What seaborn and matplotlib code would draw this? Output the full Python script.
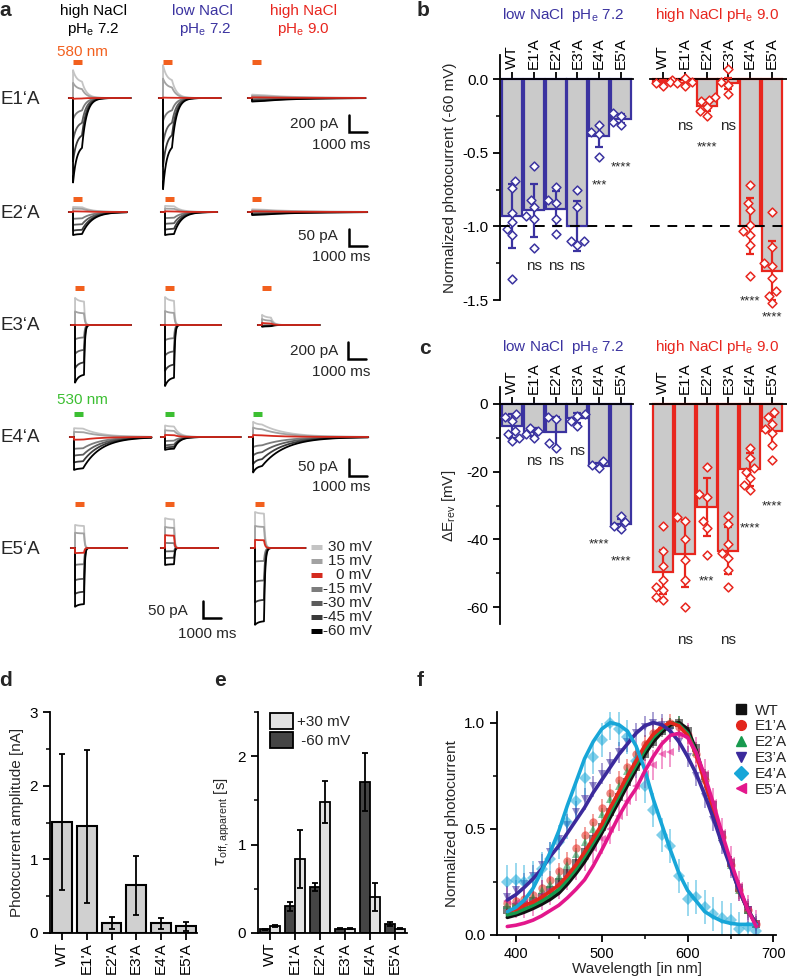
import numpy as np
import pandas as pd
import matplotlib
matplotlib.use('Agg')
import matplotlib.pyplot as plt
from matplotlib.lines import Line2D
from matplotlib.patches import Patch
from matplotlib.ticker import MultipleLocator
import seaborn as sns

sns.set_style('ticks')
plt.rcParams['font.family'] = ['Liberation Sans', 'DejaVu Sans']
plt.rcParams['font.size'] = 11
plt.rcParams['axes.unicode_minus'] = False
plt.rcParams['axes.linewidth'] = 1.3
plt.rcParams['axes.edgecolor'] = 'black'
for a in ['xtick', 'ytick']:
    plt.rcParams[a + '.major.width'] = 1.3
    plt.rcParams[a + '.minor.width'] = 1.1
    plt.rcParams[a + '.major.size'] = 5
    plt.rcParams[a + '.minor.size'] = 3
    plt.rcParams[a + '.color'] = 'black'
    plt.rcParams[a + '.labelsize'] = 11

# ---------------- data ----------------
variants = ['WT', "E1'A", "E2'A", "E3'A", "E4'A", "E5'A"]
row_names = ['E1‘A', 'E2‘A', 'E3‘A', 'E4‘A', 'E5‘A']
volt_labels = ['30 mV', '15 mV', '0 mV', '-15 mV', '-30 mV', '-45 mV', '-60 mV']

# panel a: peak photocurrent (pA) per voltage, for [high NaCl 7.2, low NaCl 7.2, high NaCl 9.0]
amps_e1 = [[330, 180, -10, -250, -500, -750, -1000],
           [390, 230, 5, -270, -540, -810, -1080],
           [40, 25, 8, -12, -22, -32, -42]]
amps_e2 = [[15, 10, 2, -20, -38, -55, -68],
           [18, 10, 2, -18, -35, -52, -68],
           [8, 5, 2, -3, -5, -7, -9]]
amps_e3 = [[320, 160, 0, -170, -340, -510, -680],
           [330, 165, 0, -180, -360, -540, -720],
           [120, 70, 25, -5, -10, -15, -20]]
amps_e4 = [[26, 15, -8, -35, -55, -75, -97],
           [34, 20, 6, -12, -25, -32, -38],
           [45, 28, 6, -30, -55, -80, -105]]
amps_e5 = [[68, 45, -15, -50, -95, -135, -173],
           [88, 62, 38, 15, -10, -30, -50],
           [106, 65, 24, -40, -100, -160, -226]]
trace_amps = [amps_e1, amps_e2, amps_e3, amps_e4, amps_e5]
scale_pa = [200, 50, 200, 50, 50]
steady_frac = [[0.55, 0.5, 0.9], [0.95, 0.95, 0.9], [0.85, 0.85, 0.7], [0.95, 0.9, 0.8], [0.95, 0.95, 0.95]]
tau_off_ms = [[250, 250, 1800], [550, 400, 2000], [50, 50, 150], [1000, 300, 1300], [40, 40, 60]]
trace_len_ms = [[3200, 3200, 6300], [3000, 2900, 6400], [3100, 3100, 3200], [4300, 4200, 6400], [2900, 2950, 2800]]
light_ms = 500

# panel b
b_low_mean = [-0.93, -0.89, -0.88, -1.00, -0.39, -0.27]
b_low_sd = [0.22, 0.18, 0.12, 0.17, 0.07, 0.03]
b_low_pts = {'WT': [-0.69, -0.74, -0.91, -0.97, -1.02, -1.06, -1.36],
             "E1'A": [-0.59, -0.82, -0.87, -0.93, -0.95, -1.15],
             "E2'A": [-0.73, -0.82, -0.84, -0.95, -1.05],
             "E3'A": [-0.75, -0.87, -1.10, -1.10, -1.13],
             "E4'A": [-0.31, -0.36, -0.37, -0.53],
             "E5'A": [-0.23, -0.25, -0.29, -0.31]}
b_high_mean = [-0.02, -0.01, -0.18, -0.03, -1.00, -1.30]
b_high_sd = [0.01, 0.02, 0.04, 0.04, 0.19, 0.20]
b_high_pts = {'WT': [-0.01, -0.02, -0.03, -0.05],
              "E1'A": [0.01, -0.02, -0.03, -0.05],
              "E2'A": [-0.12, -0.14, -0.15, -0.19, -0.22, -0.25],
              "E3'A": [0.07, -0.02, -0.04, -0.10],
              "E4'A": [-0.72, -0.84, -0.89, -0.99, -1.03, -1.06, -1.13, -1.34],
              "E5'A": [-0.90, -1.14, -1.25, -1.27, -1.35, -1.44, -1.47, -1.52]}
b_low_sig = ['', 'ns', 'ns', 'ns', '***', '****']
b_high_sig = ['', 'ns', '****', 'ns', '****', '****']

# panel c
c_low_mean = [-6.5, -8.4, -8.4, -4.2, -18.2, -35.6]
c_low_sd = [3.5, 1.2, 4.5, 1.5, 0.8, 1.5]
c_low_pts = {'WT': [-3, -4, -5, -8, -9, -10, -11],
             "E1'A": [-7, -8, -9, -10],
             "E2'A": [-4, -4.5, -11.5, -13],
             "E3'A": [-3, -3.5, -5, -6.5],
             "E4'A": [-17, -18, -19],
             "E5'A": [-33, -35, -36, -37]}
c_high_mean = [-49.7, -44.2, -30.5, -43.3, -19.3, -8.1]
c_high_sd = [6.5, 10.0, 8.5, 7.0, 4.8, 4.3]
c_high_pts = {'WT': [-36, -43.5, -48, -52, -54, -55, -57, -58],
              "E1'A": [-33.5, -34.5, -40, -46, -52, -60],
              "E2'A": [-18.5, -26.5, -27.5, -34.5, -36.5, -44.5],
              "E3'A": [-33, -35.5, -41.5, -44, -45.5, -49, -54],
              "E4'A": [-13, -16, -19, -20, -22, -24, -25.5],
              "E5'A": [-2.5, -4, -6, -7.5, -8.5, -12, -16.5]}
c_low_sig = ['', 'ns', 'ns', 'ns', '****', '****']
c_high_sig = ['', 'ns', '***', 'ns', '****', '****']

# panel d
d_mean = [1.51, 1.45, 0.14, 0.65, 0.13, 0.09]
d_sd = [0.92, 1.04, 0.08, 0.40, 0.08, 0.06]

# panel e
e_neg60 = [0.04, 0.30, 0.52, 0.05, 1.71, 0.10]
e_neg60_sd = [0.01, 0.05, 0.04, 0.01, 0.33, 0.02]
e_pos30 = [0.08, 0.84, 1.48, 0.05, 0.41, 0.05]
e_pos30_sd = [0.01, 0.33, 0.24, 0.01, 0.16, 0.01]

# panel f
wl = [390, 400, 410, 420, 430, 440, 450, 460, 470, 480, 490, 500, 510, 520, 530,
      540, 550, 560, 570, 580, 590, 600, 610, 620, 630, 640, 650, 660, 670, 680]
f_fit = {
    'WT': [0.083, 0.094, 0.108, 0.125, 0.145, 0.168, 0.197, 0.24, 0.29, 0.345, 0.41, 0.48, 0.555, 0.63, 0.705,
           0.78, 0.85, 0.91, 0.955, 0.99, 1.0, 0.97, 0.87, 0.73, 0.60, 0.46, 0.34, 0.22, 0.12, 0.05],
    "E1'A": [0.112, 0.12, 0.14, 0.155, 0.178, 0.205, 0.235, 0.28, 0.33, 0.39, 0.455, 0.52, 0.60, 0.675, 0.75,
             0.82, 0.89, 0.945, 0.98, 1.0, 0.985, 0.94, 0.85, 0.72, 0.59, 0.45, 0.33, 0.21, 0.12, 0.05],
    "E2'A": [0.095, 0.105, 0.122, 0.14, 0.16, 0.185, 0.215, 0.26, 0.31, 0.37, 0.435, 0.50, 0.58, 0.655, 0.73,
             0.80, 0.87, 0.93, 0.97, 1.0, 0.99, 0.95, 0.86, 0.73, 0.59, 0.45, 0.33, 0.21, 0.12, 0.05],
    "E3'A": [0.165, 0.19, 0.225, 0.265, 0.31, 0.37, 0.42, 0.48, 0.54, 0.60, 0.67, 0.73, 0.79, 0.85, 0.90,
             0.95, 0.985, 1.0, 0.99, 0.96, 0.91, 0.84, 0.76, 0.66, 0.55, 0.43, 0.32, 0.21, 0.12, 0.05],
    "E4'A": [0.11, 0.13, 0.165, 0.22, 0.30, 0.39, 0.49, 0.61, 0.72, 0.83, 0.91, 0.97, 1.0, 0.99, 0.96,
             0.89, 0.78, 0.64, 0.52, 0.40, 0.29, 0.21, 0.16, 0.11, 0.085, 0.065, 0.055, 0.05, 0.05, 0.05],
    "E5'A": [0.04, 0.046, 0.056, 0.07, 0.09, 0.115, 0.14, 0.175, 0.215, 0.26, 0.325, 0.40, 0.48, 0.56, 0.63,
             0.69, 0.77, 0.84, 0.90, 0.94, 0.95, 0.93, 0.86, 0.75, 0.62, 0.48, 0.35, 0.23, 0.12, 0.04],
}
f_data = {
    'WT': [0.12, 0.13, 0.14, 0.16, 0.18, 0.21, 0.25, 0.29, 0.34, 0.39, 0.45, 0.51, 0.58, 0.65, 0.72,
           0.79, 0.85, 0.91, 0.96, 0.99, 1.0, 0.96, 0.88, 0.75, 0.61, 0.47, 0.34, 0.22, 0.12, 0.05],
    "E1'A": [0.15, 0.16, 0.17, 0.19, 0.22, 0.26, 0.30, 0.35, 0.41, 0.47, 0.53, 0.60, 0.67, 0.73, 0.79,
             0.85, 0.90, 0.95, 0.98, 1.0, 0.98, 0.94, 0.85, 0.73, 0.59, 0.46, 0.33, 0.21, 0.12, 0.05],
    "E2'A": [0.14, 0.15, 0.16, 0.18, 0.21, 0.24, 0.28, 0.33, 0.38, 0.44, 0.50, 0.57, 0.64, 0.70, 0.77,
             0.83, 0.88, 0.93, 0.97, 0.99, 1.0, 0.95, 0.86, 0.74, 0.60, 0.46, 0.33, 0.21, 0.12, 0.05],
    "E3'A": [0.18, 0.21, 0.24, 0.28, 0.33, 0.39, 0.45, 0.52, 0.58, 0.64, 0.70, 0.76, 0.81, 0.86, 0.91,
             0.95, 0.98, 1.0, 0.99, 0.96, 0.91, 0.84, 0.75, 0.65, 0.54, 0.43, 0.32, 0.21, 0.12, 0.04],
    "E4'A": [0.25, 0.26, 0.25, 0.27, 0.31, 0.36, 0.44, 0.53, 0.63, 0.74, 0.84, 0.92, 1.0, 0.97, 0.93,
             0.82, 0.70, 0.59, 0.47, 0.42, 0.28, 0.17, 0.18, 0.13, 0.10, 0.08, 0.07, 0.03, 0.04, 0.02],
    "E5'A": [0.16, 0.15, 0.15, 0.16, 0.19, 0.21, 0.24, 0.28, 0.33, 0.37, 0.41, 0.45, 0.50, 0.56, 0.63,
             0.70, 0.76, 0.80, 0.85, 0.86, 0.94, 0.93, 0.86, 0.76, 0.62, 0.48, 0.35, 0.23, 0.12, 0.05],
}
f_err = {'WT': 0.03, "E1'A": 0.04, "E2'A": 0.03, "E3'A": 0.05, "E4'A": 0.08, "E5'A": 0.07}
f_labels = ['WT', 'E1’A', 'E2’A', 'E3’A', 'E4’A', 'E5’A']

# ---------------- styles ----------------
blue = '#3b33a0'
red = '#e8261e'
bar_grey = '#cacaca'
volt_colors = ['#c4c4c4', '#a2a2a2', '#d42a1e', '#7c7c7c', '#5c5c5c', '#3a3a3a', '#000000']
orange = '#f2601e'
green = '#3cbf32'
f_colors = {'WT': '#111111', "E1'A": '#e3261c', "E2'A": '#179a4e', "E3'A": '#3b2a9c',
            "E4'A": '#17a6d8', "E5'A": '#e3178c'}
f_markers = {'WT': 's', "E1'A": 'o', "E2'A": '^', "E3'A": 'v', "E4'A": 'D', "E5'A": '<'}

W, H = 787, 976
fig = plt.figure(figsize=(W / 100, H / 100), dpi=100)


def add_ax(l, t, r, b):
    return fig.add_axes([l / W, 1 - b / H, (r - l) / W, (b - t) / H])


def ftxt(x, y, s, **kw):
    fig.text(x / W, 1 - y / H, s, **kw)


# ---------------- panel a ----------------
axa = add_ax(0, 0, 400, 645)
axa.set_xlim(0, 400)
axa.set_ylim(645, 0)
axa.axis('off')

px_ms = 18 / 1000
px_pa = {200: 17 / 200, 50: 17 / 50}
row_base = [98, 212, 325, 437, 548]
light_y = [62, 199, 288, 414, 504]
light_x = [[73, 163, 252], [73, 165, 252], [75, 165, 262], [74, 165, 253], [75, 165, 255]]
row_label_y = [100, 213, 325, 437, 550]
draw_order = [0, 1, 3, 4, 5, 6, 2]


def trace(amp, t, ss, tau_off, tau_in=200.0):
    on = amp * (ss + (1 - ss) * np.exp(-np.clip(t, 0, None) / tau_in))
    end = amp * (ss + (1 - ss) * np.exp(-light_ms / tau_in))
    off = end * np.exp(-np.clip(t - light_ms, 0, None) / tau_off)
    return np.where(t < 0, 0.0, np.where(t <= light_ms, on, off))


for r in range(5):
    lc = green if r == 3 else orange
    k = px_pa[scale_pa[r]]
    axa.text(0, row_label_y[r], row_names[r], fontsize=13.5, va='center', ha='left')
    for c in range(3):
        x0 = light_x[r][c]
        t = np.linspace(-230, trace_len_ms[r][c], 900)
        for v in draw_order:
            cur = trace(trace_amps[r][c][v], t, steady_frac[r][c], tau_off_ms[r][c])
            axa.plot(x0 + t * px_ms, row_base[r] - cur * k, color=volt_colors[v], lw=1.3,
                     solid_joinstyle='round')
        axa.plot([x0, x0 + light_ms * px_ms], [light_y[r]] * 2, color=lc, lw=3.6, solid_capstyle='butt')

# scale bars
sb = [(349, 132, 200, 338, 124, 341, 145), (349, 246, 50, 338, 236, 341, 257),
      (348, 359, 200, 338, 351, 341, 372), (349, 476, 50, 338, 467, 341, 487),
      (203, 618, 50, 188, 611, 207, 634)]
for (xb, yb, sc, tx, ty, mx, my) in sb:
    h = sc * px_pa[sc]
    axa.plot([xb, xb, xb + 1000 * px_ms], [yb - h, yb, yb], color='k', lw=1.8, solid_joinstyle='miter')
    axa.text(tx, ty, f'{sc} pA', ha='right', va='center')
    axa.text(mx, my, '1000 ms', ha='center', va='center')

# voltage legend
for i, (lab, col) in enumerate(zip(volt_labels, volt_colors)):
    y = 547 + 14 * i
    axa.plot([311, 322], [y, y], color=col, lw=3.6, solid_capstyle='butt')
    axa.text(372, y, lab, ha='right', va='center')

axa.text(93, 11, 'high NaCl', ha='center', va='center', color='k')
axa.text(93, 30, 'pH$_\\mathregular{e}$ 7.2', ha='center', va='center', color='k')
axa.text(202, 11, 'low NaCl', ha='center', va='center', color=blue)
axa.text(205, 30, 'pH$_\\mathregular{e}$ 7.2', ha='center', va='center', color=blue)
axa.text(303, 11, 'high NaCl', ha='center', va='center', color=red)
axa.text(303, 30, 'pH$_\\mathregular{e}$ 9.0', ha='center', va='center', color=red)
axa.text(82, 52, '580 nm', ha='center', va='center', color=orange)
axa.text(82, 400, '530 nm', ha='center', va='center', color=green)


# ---------------- panels b, c ----------------
def group_axes(l, r, t, b, ylim, xlim, means, sds, pts, sig, sig_y, color, first):
    ax = add_ax(l, t, r, b)
    sns.barplot(x=variants, y=means, color=bar_grey, edgecolor=color, linewidth=1.6,
                width=0.92, saturation=1, ax=ax, zorder=2)
    ax.errorbar(range(6), means, yerr=sds, fmt='none', ecolor=color, elinewidth=1.6,
                capsize=3, capthick=1.6, zorder=3)
    df = pd.DataFrame([(v, y) for v in variants for y in pts[v]], columns=['variant', 'val'])
    sns.swarmplot(data=df, x='variant', y='val', order=variants, marker='D', color='white',
                  edgecolor=color, linewidth=1.1, size=4.5, ax=ax, zorder=4, clip_on=False)
    for i, (s, y) in enumerate(zip(sig, sig_y)):
        if s:
            ax.text(i, y, s, ha='center', va='center', fontsize=11 if s == 'ns' else 9.5, clip_on=False)
    ax.set_ylim(*ylim)
    ax.set_xlim(*xlim)
    ax.spines['top'].set_position(('data', 0))
    ax.spines['bottom'].set_visible(False)
    ax.spines['right'].set_visible(False)
    ax.xaxis.set_ticks_position('top')
    ax.tick_params(axis='x', rotation=90, pad=2)
    ax.set_xlabel('')
    ax.set_ylabel('')
    if not first:
        ax.spines['left'].set_visible(False)
        ax.tick_params(axis='y', which='both', left=False, labelleft=False)
    return ax


b_sig_y_low = [0, -1.27, -1.27, -1.27, -0.72, -0.597]
b_sig_y_high = [0, -0.32, -0.465, -0.32, -1.513, -1.615]
axb1 = group_axes(500, 633, 55, 300, (-1.5, 0.163), (-0.55, 5.55), b_low_mean, b_low_sd, b_low_pts,
                  b_low_sig, b_sig_y_low, blue, True)
axb2 = group_axes(650, 787, 55, 300, (-1.5, 0.163), (-0.6, 5.69), b_high_mean, b_high_sd, b_high_pts,
                  b_high_sig, b_sig_y_high, red, False)
for ax in (axb1, axb2):
    ax.axhline(-1.0, color='k', lw=1.4, ls=(0, (5, 4)), zorder=5)
axb1.set_yticks([0, -0.5, -1.0, -1.5])
axb1.set_yticklabels(['0.0', '-0.5', '-1.0', '-1.5'])
axb1.yaxis.set_minor_locator(MultipleLocator(0.25))
axb1.set_ylabel('Normalized photocurrent (-60 mV)', labelpad=4)

c_sig_y_low = [0, -17.0, -17.0, -13.8, -41.4, -46.4]
c_sig_y_high = [0, -69.7, -52.3, -69.7, -36.7, -30.2]
axc1 = group_axes(500, 633, 387, 624, (-65, 5), (-0.55, 5.55), c_low_mean, c_low_sd, c_low_pts,
                  c_low_sig, c_sig_y_low, blue, True)
axc2 = group_axes(650, 787, 387, 624, (-65, 5), (-0.6, 5.69), c_high_mean, c_high_sd, c_high_pts,
                  c_high_sig, c_sig_y_high, red, False)
axc1.set_yticks([0, -20, -40, -60])
axc1.yaxis.set_minor_locator(MultipleLocator(10))
axc1.set_ylabel('ΔE$_\\mathregular{rev}$ [mV]', labelpad=6)

ftxt(563, 15, 'low NaCl  pH$_\\mathregular{e}$ 7.2', ha='center', va='center', color=blue)
ftxt(717, 15, 'high NaCl pH$_\\mathregular{e}$ 9.0', ha='center', va='center', color=red)
ftxt(563, 347, 'low NaCl  pH$_\\mathregular{e}$ 7.2', ha='center', va='center', color=blue)
ftxt(717, 347, 'high NaCl pH$_\\mathregular{e}$ 9.0', ha='center', va='center', color=red)

# ---------------- panel d ----------------
axd = add_ax(50, 712, 197, 933)
sns.barplot(x=variants, y=d_mean, color='#d0d0d0', edgecolor='k', linewidth=1.5, width=0.8,
            saturation=1, ax=axd)
axd.errorbar(range(6), d_mean, yerr=d_sd, fmt='none', ecolor='k', elinewidth=1.3, capsize=2.5, capthick=1.3)
axd.set_xlim(-0.49, 5.46)
axd.set_ylim(0, 3)
axd.set_yticks([0, 1, 2, 3])
axd.yaxis.set_minor_locator(MultipleLocator(0.5))
axd.tick_params(axis='x', rotation=90, pad=2)
axd.set_ylabel('Photocurrent amplitude [nA]', labelpad=4)
axd.set_xlabel('')
sns.despine(ax=axd)

# ---------------- panel e ----------------
axe = add_ax(258, 712, 407, 933)
df_e = pd.DataFrame({'variant': variants * 2,
                     'tau': e_neg60 + e_pos30,
                     'voltage': ['-60 mV'] * 6 + ['+30 mV'] * 6})
dark, light = '#454545', '#e2e2e2'
sns.barplot(data=df_e, x='variant', y='tau', hue='voltage', hue_order=['-60 mV', '+30 mV'],
            palette=[dark, light], edgecolor='k', linewidth=1.3, width=0.8, saturation=1, ax=axe)
xs = np.arange(6)
axe.errorbar(xs - 0.2, e_neg60, yerr=e_neg60_sd, fmt='none', ecolor='k', elinewidth=1.3, capsize=2.5, capthick=1.3)
axe.errorbar(xs + 0.2, e_pos30, yerr=e_pos30_sd, fmt='none', ecolor='k', elinewidth=1.3, capsize=2.5, capthick=1.3)
axe.get_legend().remove()
axe.legend([Patch(facecolor=light, edgecolor='k', lw=1.3), Patch(facecolor=dark, edgecolor='k', lw=1.3)],
           ['+30 mV', ' -60 mV'], loc='upper left', bbox_to_anchor=(0.03, 1.03), frameon=False,
           handlelength=1.5, handleheight=1.2, handletextpad=0.25, labelspacing=0.2, borderpad=0,
           fontsize=11)
axe.set_xlim(-0.48, 5.48)
axe.set_ylim(0, 2.5)
axe.set_yticks([0, 1, 2])
axe.yaxis.set_minor_locator(MultipleLocator(0.5))
axe.tick_params(axis='x', rotation=90, pad=2)
axe.set_ylabel('$\\tau_{\\mathregular{off,apparent}}$ [s]', labelpad=4)
axe.set_xlabel('')
sns.despine(ax=axe)

# ---------------- panel f ----------------
axf = add_ax(497, 712, 776, 935)
for v in variants:
    axf.errorbar(wl, f_data[v], yerr=f_err[v], fmt=f_markers[v], color=f_colors[v], ms=6, mew=0,
                 alpha=0.55, elinewidth=1.1, capsize=3, capthick=1.1, zorder=2)
for v in ['WT', "E2'A", "E1'A", "E3'A", "E4'A", "E5'A"]:
    sns.lineplot(x=wl, y=f_fit[v], color=f_colors[v], lw=2.6, ax=axf, zorder=3)
axf.set_xlim(378, 703)
axf.set_ylim(0, 1.05)
axf.set_xticks([400, 500, 600, 700])
axf.xaxis.set_minor_locator(MultipleLocator(50))
axf.set_yticks([0, 0.5, 1.0])
axf.set_yticklabels(['0.0', '0.5', '1.0'])
axf.yaxis.set_minor_locator(MultipleLocator(0.25))
axf.tick_params(axis='x', labelsize=10.5)
axf.set_xlabel('Wavelength [in nm]', labelpad=1)
axf.set_ylabel('Normalized photocurrent', labelpad=4)
sns.despine(ax=axf)
handles = [Line2D([], [], marker=f_markers[v], color=f_colors[v], ls='none', ms=7) for v in variants]
fig.legend(handles, f_labels, loc='upper left', bbox_to_anchor=(724 / W, 1 - 696 / H), frameon=False,
           handletextpad=0.3, labelspacing=0.12, borderpad=0, handlelength=1.2, fontsize=11)

# panel letters
for lab, x, y in [('a', 5, 11), ('b', 423, 10), ('c', 425, 348), ('d', 6, 680), ('e', 220, 680), ('f', 420, 680)]:
    ftxt(x, y, lab, fontsize=15, fontweight='bold', ha='center', va='center')

fig.savefig('out.png', dpi=100)
